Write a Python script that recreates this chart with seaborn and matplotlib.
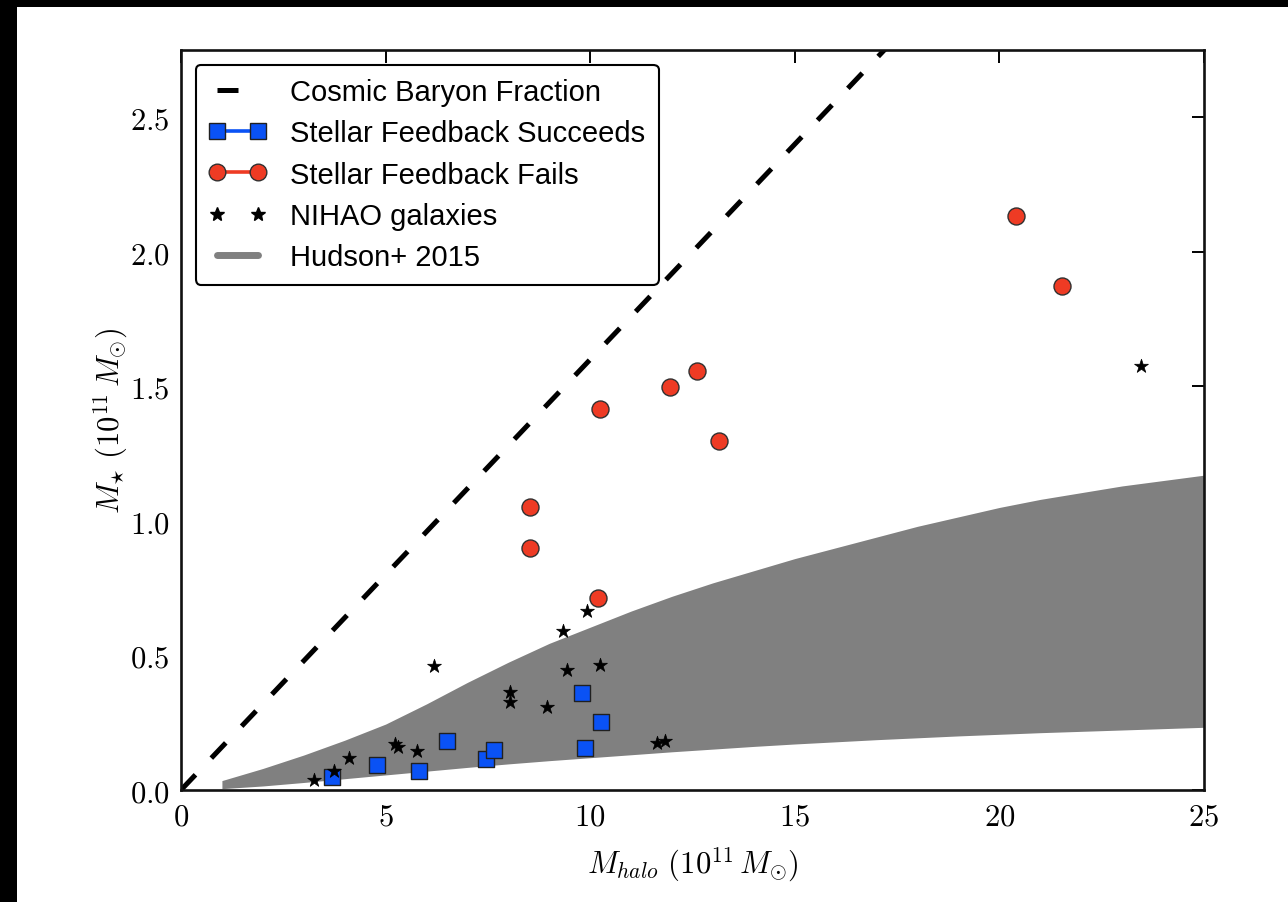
import numpy as np
import pandas as pd
import matplotlib
matplotlib.use("Agg")
import matplotlib.pyplot as plt
from matplotlib.lines import Line2D
from matplotlib.patches import Rectangle
from matplotlib.ticker import FuncFormatter
import seaborn as sns

# ---------------- data ----------------
succeed_mhalo = [3.69, 4.79, 5.82, 6.51, 7.46, 7.66, 9.81, 10.27, 9.87]
succeed_mstar = [0.049, 0.093, 0.072, 0.183, 0.115, 0.148, 0.360, 0.253, 0.155]

fail_mhalo = [20.40, 21.53, 11.96, 12.60, 10.25, 13.14, 8.54, 8.54, 10.18]
fail_mstar = [2.133, 1.873, 1.499, 1.558, 1.417, 1.298, 1.053, 0.901, 0.712]

nihao_mhalo = [3.26, 3.74, 4.10, 5.23, 5.31, 5.76, 6.19, 8.03, 8.03, 8.95,
               9.43, 10.23, 9.33, 9.92, 11.64, 11.84, 23.46]
nihao_mstar = [0.037, 0.072, 0.120, 0.170, 0.161, 0.146, 0.461, 0.365, 0.327, 0.309,
               0.446, 0.464, 0.591, 0.665, 0.176, 0.183, 1.574]

cosmic_x = [0.0, 25.0]
cosmic_y = [0.0, 4.0]

hudson_x = [1, 2, 3, 4, 5, 6, 7, 8, 9, 10, 11, 12, 13, 14, 15, 16, 17, 18, 19,
            20, 21, 22, 23, 24, 25]
hudson_lo = [0.005, 0.015, 0.028, 0.042, 0.056, 0.070, 0.084, 0.097, 0.109, 0.120,
             0.131, 0.142, 0.152, 0.162, 0.171, 0.179, 0.187, 0.194, 0.201, 0.207,
             0.213, 0.218, 0.223, 0.228, 0.233]
hudson_hi = [0.035, 0.080, 0.130, 0.185, 0.245, 0.320, 0.400, 0.475, 0.545, 0.605,
             0.665, 0.720, 0.770, 0.815, 0.860, 0.900, 0.940, 0.980, 1.015, 1.050,
             1.080, 1.105, 1.130, 1.150, 1.170]

x_ticks = [0, 5, 10, 15, 20, 25]
y_ticks = [0.0, 0.5, 1.0, 1.5, 2.0, 2.5]

# ---------------- style ----------------
sns.set_style("white")
plt.rcParams["font.family"] = ["Liberation Sans", "DejaVu Sans"]
plt.rcParams["mathtext.fontset"] = "cm"
plt.rcParams["text.color"] = "black"
plt.rcParams["axes.labelcolor"] = "black"

BLUE = "#0a52f5"
RED = "#ee3b24"
GREY = "#808080"

fig = plt.figure(figsize=(12.88, 9.03), dpi=100)
fig.patch.set_facecolor("black")
fig.patches.append(Rectangle((17 / 1288, 0), 1 - 17 / 1288, 1 - 8 / 903,
                             transform=fig.transFigure, facecolor="white",
                             edgecolor="none", zorder=-10))
ax = fig.add_axes([181 / 1288, 1 - 791 / 903, (1204 - 181) / 1288, (791 - 51) / 903])
ax.set_facecolor("white")

# Hudson band
ax.fill_between(hudson_x, hudson_lo, hudson_hi, color=GREY, lw=0, zorder=1)

# cosmic baryon fraction
dash = (0, (4.2, 4.6))
sns.lineplot(x=cosmic_x, y=cosmic_y, ax=ax, color="black", lw=3.6,
             linestyle=dash, zorder=2, legend=False)

df_s = pd.DataFrame({"mhalo": succeed_mhalo, "mstar": succeed_mstar})
df_f = pd.DataFrame({"mhalo": fail_mhalo, "mstar": fail_mstar})
df_n = pd.DataFrame({"mhalo": nihao_mhalo, "mstar": nihao_mstar})

sns.scatterplot(data=df_s, x="mhalo", y="mstar", ax=ax, marker="s", s=125,
                color=BLUE, edgecolor="#202020", linewidth=1.0, zorder=3, legend=False)
sns.scatterplot(data=df_f, x="mhalo", y="mstar", ax=ax, marker="o", s=150,
                color=RED, edgecolor="#303030", linewidth=1.0, zorder=3, legend=False)
sns.scatterplot(data=df_n, x="mhalo", y="mstar", ax=ax, marker="*", s=110,
                color="black", edgecolor="black", linewidth=0.5, zorder=4, legend=False)

ax.set_xlim(0, 25)
ax.set_ylim(0, 2.75)
ax.set_xticks(x_ticks)
ax.set_yticks(y_ticks)
ax.xaxis.set_major_formatter(FuncFormatter(lambda v, p: r"$%d$" % v))
ax.yaxis.set_major_formatter(FuncFormatter(lambda v, p: r"$%.1f$" % v))
ax.tick_params(axis="both", which="major", direction="in", length=9, width=1.4,
               top=True, right=True, labelsize=22, colors="black", pad=8)
for sp in ax.spines.values():
    sp.set_visible(True)
    sp.set_linewidth(1.9)
    sp.set_color("#111111")

ax.set_xlabel(r"$M_{halo}\ (10^{11}\,M_{\odot})$", fontsize=22, labelpad=10)
ax.set_ylabel(r"$M_{\star}\ (10^{11}\,M_{\odot})$", fontsize=22, labelpad=0)

handles = [
    Line2D([], [], color="black", lw=3.6, linestyle=dash),
    Line2D([], [], color=BLUE, lw=2.6, marker="s", markersize=11,
           markerfacecolor=BLUE, markeredgecolor="#202020"),
    Line2D([], [], color=RED, lw=2.6, marker="o", markersize=12,
           markerfacecolor=RED, markeredgecolor="#303030"),
    Line2D([], [], color="black", lw=0, linestyle="none", marker="*", markersize=10),
    Line2D([], [], color=GREY, lw=5),
]
labels = ["Cosmic Baryon Fraction", "Stellar Feedback Succeeds",
          "Stellar Feedback Fails", "NIHAO galaxies", "Hudson+ 2015"]
leg = ax.legend(handles, labels, loc="upper left", fontsize=21, numpoints=2,
                handlelength=2.0, handletextpad=0.8, labelspacing=0.46,
                borderaxespad=0.5, borderpad=0.45, frameon=True, fancybox=True,
                framealpha=1.0)
leg.get_frame().set_edgecolor("black")
leg.get_frame().set_linewidth(1.5)
for t in leg.get_texts():
    t.set_color("black")

fig.savefig("out.png", dpi=100, facecolor=fig.get_facecolor())
